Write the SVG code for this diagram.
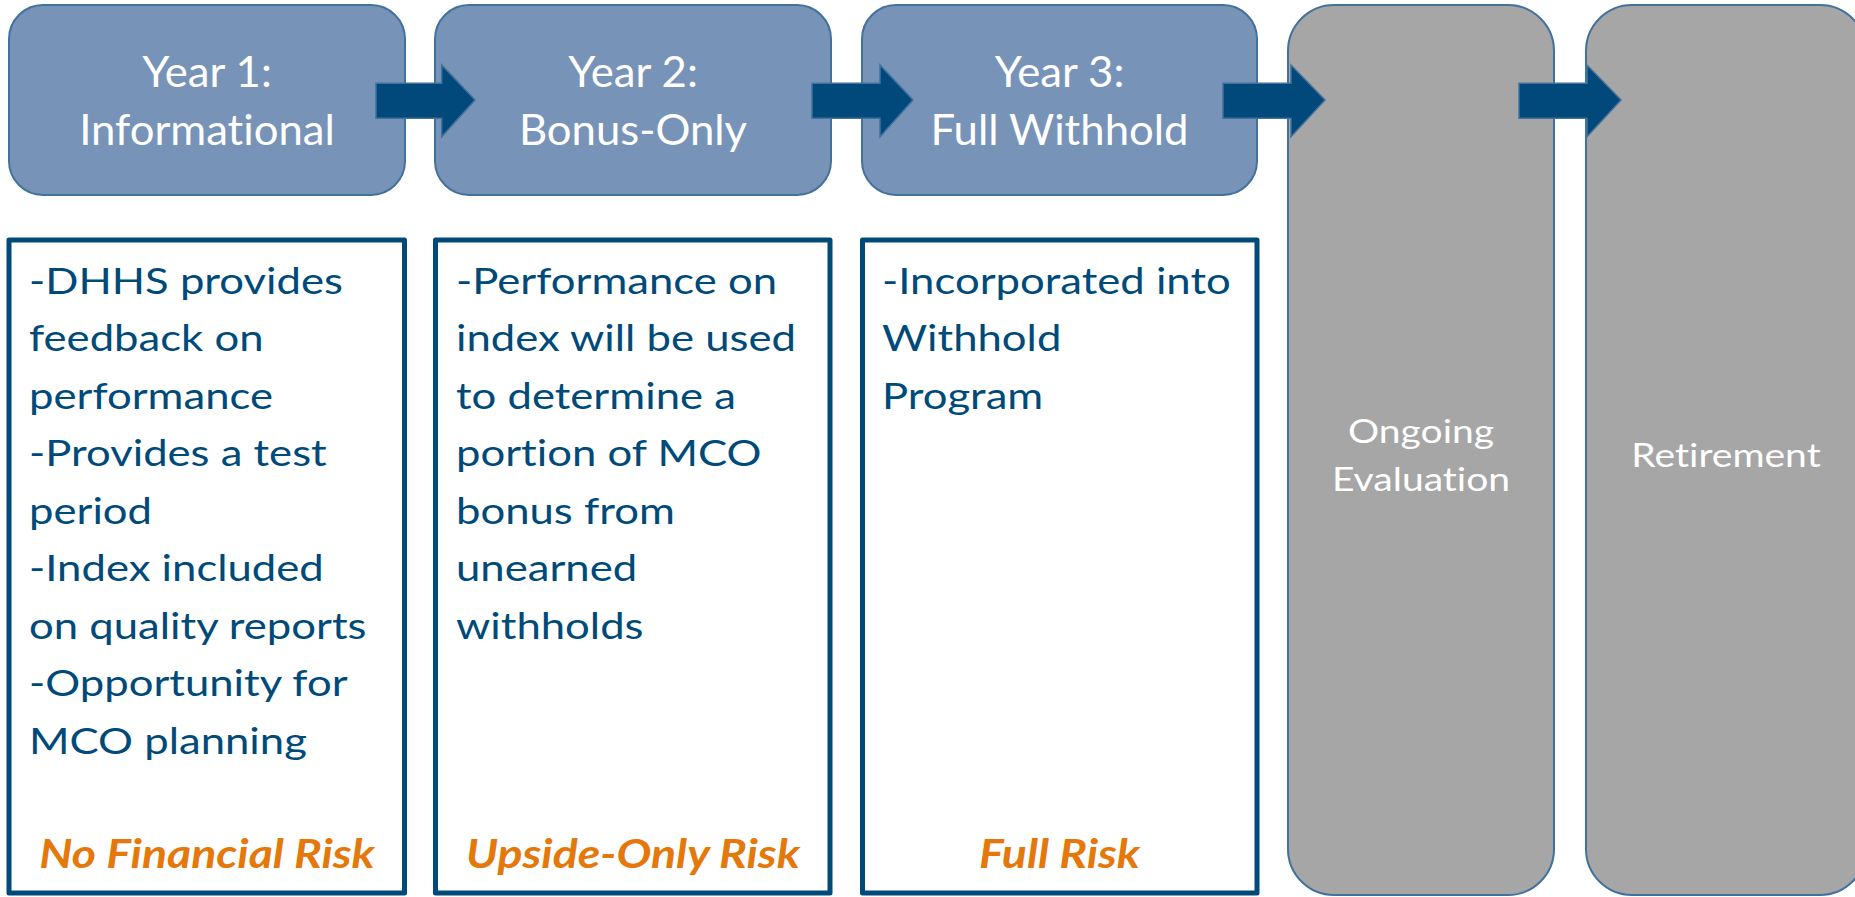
<svg xmlns="http://www.w3.org/2000/svg" width="1855" height="897" viewBox="0 0 1855 897">
  <style>
    .stage { fill: #7893B8; stroke: #41719C; stroke-width: 2; }
    .later { fill: #A6A6A6; stroke: #41719C; stroke-width: 2; }
    .panel { fill: #FFFFFF; stroke: #004A7A; stroke-width: 5; stroke-linejoin: round; }
    .arrow { fill: #00497A; stroke: #41719C; stroke-width: 1.5; }
    text { font-family: Lato, "Open Sans", sans-serif; font-variant-ligatures: none; }
    .head { font-size: 42px; fill: #FFFFFF; text-anchor: middle; }
    .gray { font-size: 32px; fill: #FFFFFF; text-anchor: middle; }
    .body { font-size: 37px; fill: #004A7A; }
    .risk { font-size: 40px; font-weight: bold; font-style: italic; fill: #E4780A; text-anchor: middle; }
  </style>

  <!-- stage headers -->
  <g id="year1">
    <rect class="stage" x="9" y="5" width="396" height="190" rx="34"/>
    <g transform="translate(207 0) scale(1.04 1)">
      <text class="head" x="0" y="87">Year 1:</text>
      <text class="head" x="0" y="145">Informational</text>
    </g>
  </g>
  <g id="year2">
    <rect class="stage" x="435" y="5" width="396" height="190" rx="34"/>
    <g transform="translate(633 0) scale(1.04 1)">
      <text class="head" x="0" y="87">Year 2:</text>
      <text class="head" x="0" y="145">Bonus-Only</text>
    </g>
  </g>
  <g id="year3">
    <rect class="stage" x="862" y="5" width="395" height="190" rx="34"/>
    <g transform="translate(1059.5 0) scale(1.04 1)">
      <text class="head" x="0" y="87">Year 3:</text>
      <text class="head" x="0" y="145">Full Withhold</text>
    </g>
  </g>
  <g id="ongoing">
    <rect class="later" x="1288" y="5" width="266" height="890" rx="46"/>
    <g transform="translate(1421 0) scale(1.22 1)">
      <text class="gray" x="0" y="443">Ongoing</text>
      <text class="gray" x="0" y="491">Evaluation</text>
    </g>
  </g>
  <g id="retirement">
    <rect class="later" x="1586" y="5" width="280" height="890" rx="46"/>
    <g transform="translate(1726 0) scale(1.22 1)">
      <text class="gray" x="0" y="467">Retirement</text>
    </g>
  </g>

  <!-- detail panels -->
  <g id="detail1">
    <rect class="panel" x="9" y="240" width="395.5" height="653"/>
    <g transform="translate(29 0) scale(1.18 1)">
      <text class="body">
        <tspan x="0" y="294">-DHHS provides</tspan>
        <tspan x="0" y="351.5">feedback on</tspan>
        <tspan x="0" y="409">performance</tspan>
        <tspan x="0" y="466.5">-Provides a test</tspan>
        <tspan x="0" y="524">period</tspan>
        <tspan x="0" y="581.5">-Index included</tspan>
        <tspan x="0" y="639">on quality reports</tspan>
        <tspan x="0" y="696.5">-Opportunity for</tspan>
        <tspan x="0" y="754">MCO planning</tspan>
      </text>
    </g>
    <g transform="translate(207 0) scale(1.16 1)">
      <text class="risk" x="0" y="868">No Financial Risk</text>
    </g>
  </g>
  <g id="detail2">
    <rect class="panel" x="435.5" y="240" width="394.5" height="653"/>
    <g transform="translate(456 0) scale(1.18 1)">
      <text class="body">
        <tspan x="0" y="294">-Performance on</tspan>
        <tspan x="0" y="351.5">index will be used</tspan>
        <tspan x="0" y="409">to determine a</tspan>
        <tspan x="0" y="466.5">portion of MCO</tspan>
        <tspan x="0" y="524">bonus from</tspan>
        <tspan x="0" y="581.5">unearned</tspan>
        <tspan x="0" y="639">withholds</tspan>
      </text>
    </g>
    <g transform="translate(633 0) scale(1.16 1)">
      <text class="risk" x="0" y="868">Upside-Only Risk</text>
    </g>
  </g>
  <g id="detail3">
    <rect class="panel" x="862.5" y="240" width="394.5" height="653"/>
    <g transform="translate(882 0) scale(1.18 1)">
      <text class="body">
        <tspan x="0" y="294">-Incorporated into</tspan>
        <tspan x="0" y="351.5">Withhold</tspan>
        <tspan x="0" y="409">Program</tspan>
      </text>
    </g>
    <g transform="translate(1059.5 0) scale(1.16 1)">
      <text class="risk" x="0" y="868">Full Risk</text>
    </g>
  </g>

  <!-- block arrows between stages -->
  <g id="connectors">
    <path class="arrow" d="M376 83.3 H441.7 V65 L475 100 L441.7 136.7 V118.3 H376 Z"/>
    <path class="arrow" d="M812 83.3 H880 V65 L913 100 L880 136.7 V118.3 H812 Z"/>
    <path class="arrow" d="M1223 83.3 H1291 V65 L1325 100 L1291 136.7 V118.3 H1223 Z"/>
    <path class="arrow" d="M1519 83.3 H1587 V65 L1621 100 L1587 136.7 V118.3 H1519 Z"/>
  </g>
</svg>
